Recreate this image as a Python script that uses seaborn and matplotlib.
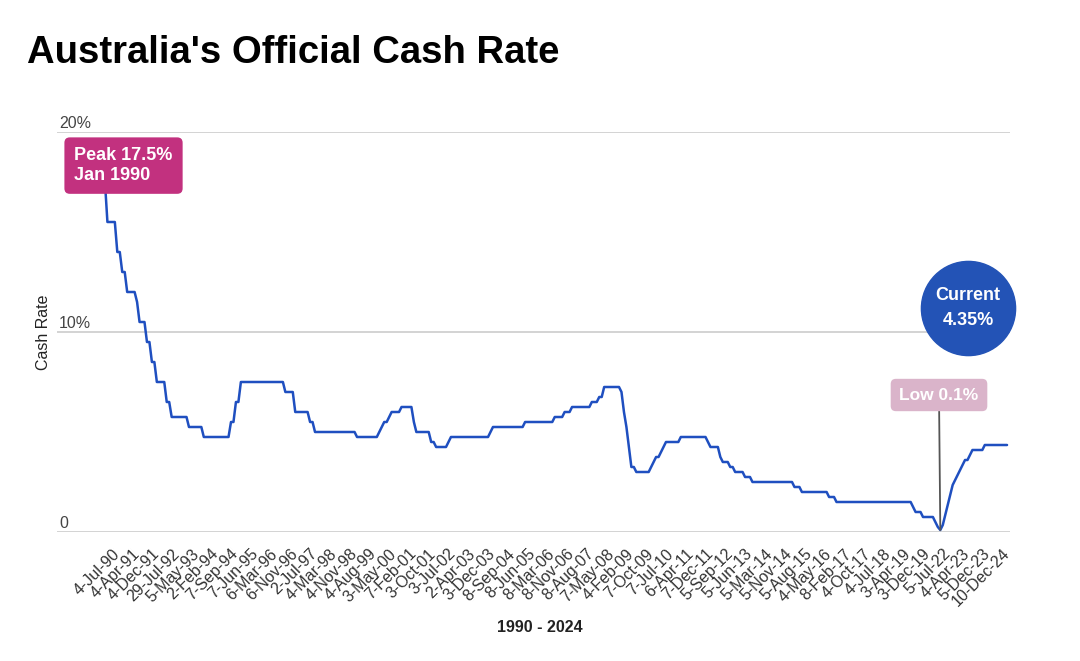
import numpy as np
import pandas as pd
import matplotlib.pyplot as plt
import seaborn as sns
from matplotlib.transforms import blended_transform_factory

# cash rate (%) and how many consecutive data rows stayed at that level
rates = [17.5, 15.5, 14.0, 13.0, 12.0, 11.5, 10.5, 9.5, 8.5, 7.5, 6.5, 5.75, 5.25, 4.75,
         5.5, 6.5, 7.5, 7.0, 6.0, 5.5, 5.0, 4.75, 5.0, 5.25, 5.5, 5.75, 6.0, 6.25, 5.5, 5.0,
         4.5, 4.25, 4.5, 4.75, 5.0, 5.25, 5.5, 5.75, 6.0, 6.25, 6.5, 6.75, 7.25, 7.0, 6.0,
         5.25, 4.25, 3.25, 3.0, 3.25, 3.5, 3.75, 4.0, 4.25, 4.5, 4.75, 4.5, 4.25, 3.75, 3.5,
         3.25, 3.0, 2.75, 2.5, 2.25, 2.0, 1.75, 1.5, 1.25, 1.0, 0.75, 0.5, 0.25, 0.1, 0.35,
         0.85, 1.35, 1.85, 2.35, 2.6, 2.85, 3.1, 3.35, 3.6, 3.85, 4.1, 4.35]
rows = [1, 4, 2, 2, 4, 1, 3, 2, 2, 4, 2, 7, 6, 11,
        2, 2, 18, 4, 6, 2, 17, 9, 1, 1, 2, 1, 4, 5, 1, 6,
        2, 5, 1, 16, 1, 13, 12, 4, 3, 8, 3, 2, 7, 1, 1,
        1, 1, 2, 6, 1, 1, 2, 1, 1, 6, 11, 1, 4, 1, 3,
        2, 4, 3, 17, 3, 11, 3, 31, 1, 3, 5, 1, 1, 1, 1,
        1, 1, 1, 1, 1, 1, 1, 1, 2, 1, 5, 10]

# every 8th row gets a label on the category axis
date_labels = ["4-Jul-90", "4-Apr-91", "4-Dec-91", "29-Jul-92", "5-May-93", "2-Feb-94",
               "7-Sep-94", "7-Jun-95", "6-Mar-96", "6-Nov-96", "2-Jul-97", "4-Mar-98",
               "4-Nov-98", "4-Aug-99", "3-May-00", "7-Feb-01", "3-Oct-01", "3-Jul-02",
               "2-Apr-03", "3-Dec-03", "8-Sep-04", "8-Jun-05", "8-Mar-06", "8-Nov-06",
               "8-Aug-07", "7-May-08", "4-Feb-09", "7-Oct-09", "7-Jul-10", "6-Apr-11",
               "7-Dec-11", "5-Sep-12", "5-Jun-13", "5-Mar-14", "5-Nov-14", "5-Aug-15",
               "4-May-16", "8-Feb-17", "4-Oct-17", "4-Jul-18", "3-Apr-19", "3-Dec-19",
               "5-Jul-22", "4-Apr-23", "5-Dec-23", "10-Dec-24"]
y_ticks = [0, 10, 20]
y_tick_labels = ["0", "10%", "20%"]

cash = np.repeat(rates, rows)
df = pd.DataFrame({"row": np.arange(len(cash)), "rate": cash})

sns.set_theme(style="white")
plt.rcParams['font.family'] = ['Liberation Sans', 'DejaVu Sans']

fig = plt.figure(figsize=(10.8, 6.61), dpi=100)
ax = fig.add_axes([57 / 1080, 1 - 532 / 661, 953 / 1080, 400 / 661])

sns.lineplot(data=df, x="row", y="rate", color="#1f4fc0", linewidth=1.8,
             estimator=None, ax=ax, zorder=3)

ax.set_xlim(-19.4, 366.2)
ax.set_ylim(0, 20)
for s in ax.spines.values():
    s.set_visible(False)

ax.set_yticks(y_ticks)
ax.set_yticklabels([])
ax.tick_params(axis='y', length=0)
ax.yaxis.grid(True, color="#cccccc", linewidth=1.2)
ax.xaxis.grid(False)
trans = blended_transform_factory(ax.transAxes, ax.transData)
for v, lab in zip(y_ticks, y_tick_labels):
    ax.text(0.002, v + 0.2, lab, transform=trans, ha='left', va='baseline',
            fontsize=11.5, color="#444444")

ax.set_xticks(np.arange(5, len(cash), 8))
ax.set_xticklabels(date_labels, rotation=45, ha='right', va='center',
                   rotation_mode='anchor', fontsize=11.5, color="#333333")
ax.tick_params(axis='x', length=0, pad=14)

ax.set_xlabel("1990 - 2024", fontsize=11.5, fontweight='bold', color="#222222")
ax.xaxis.set_label_coords(0.507, -0.24)
ax.xaxis.label.set_va('center')
ax.set_ylabel("Cash Rate", fontsize=11.5, color="#222222")
ax.yaxis.set_label_coords(-0.0145, 0.5)
ax.yaxis.label.set_va('center')

# peak label
peak = cash.max()
ax.text(0.0698, 0.916, f"Peak {peak:g}%\nJan 1990", transform=ax.transAxes,
        ha='center', va='center', multialignment='left', fontsize=13,
        fontweight='bold', color='white', zorder=5,
        bbox=dict(boxstyle='round,pad=0.55,rounding_size=0.3', fc='#c2317f', ec='none'))

# low label with a line down to the minimum
low_i = int(np.argmin(cash))
ax.annotate(f"Low {cash[low_i]:g}%", xy=(low_i, cash[low_i]), xytext=(0.9255, 0.3425),
            textcoords='axes fraction', ha='center', va='center', fontsize=12.5,
            fontweight='bold', color='white', zorder=5,
            bbox=dict(boxstyle='round,pad=0.5,rounding_size=0.3', fc='#dab4ca', ec='none'),
            arrowprops=dict(arrowstyle='-', color='#555555', lw=1.3, shrinkA=0, shrinkB=0))

# current rate bubble
ax.scatter([0.956], [0.56], s=4600, color='#2353b6', transform=ax.transAxes,
           clip_on=False, zorder=5)
ax.text(0.956, 0.56, f"Current\n{cash[-1]:.2f}%", transform=ax.transAxes,
        ha='center', va='center', fontsize=13, fontweight='bold', color='white',
        linespacing=1.6, zorder=6)

fig.text(27 / 1080, 1 - 63 / 661, "Australia's Official Cash Rate", fontsize=27.5,
         fontweight='bold', color='black', va='baseline', ha='left')

fig.savefig("out.png", dpi=100)
